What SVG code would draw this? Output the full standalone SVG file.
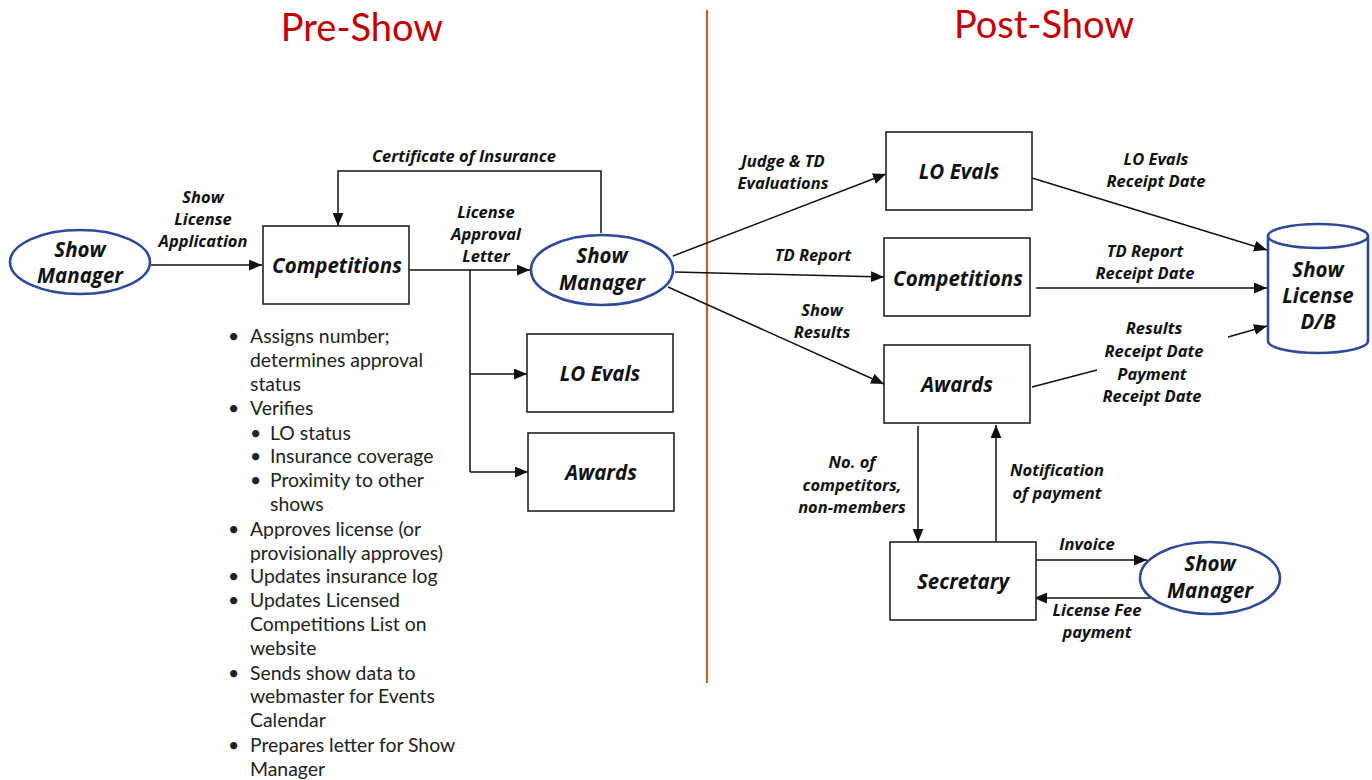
<svg xmlns="http://www.w3.org/2000/svg" width="1372" height="780" viewBox="0 0 1372 780">
<style>
.title{font-family:Lato,"Open Sans",sans-serif;font-size:38px;fill:#c00000;text-anchor:middle}
.box{fill:#fff;stroke:#222;stroke-width:1.6}
.oval{fill:#fff;stroke:#2c4a97;stroke-width:2.6}
.node{font-family:"Open Sans",Lato,sans-serif;font-size:20.5px;font-weight:bold;font-style:italic;fill:#111;text-anchor:middle}
.lbl{font-family:"Open Sans",Lato,sans-serif;font-size:16.5px;font-weight:bold;font-style:italic;fill:#111;text-anchor:middle}
.bul{font-family:Lato,"Open Sans",sans-serif;font-size:19.4px;fill:#222}
.ln{fill:none;stroke:#111;stroke-width:1.5}
.arr{fill:none;stroke:#111;stroke-width:1.5;marker-end:url(#ah)}
</style>
<defs>
<marker id="ah" viewBox="0 0 12 10" refX="12" refY="5" markerWidth="13" markerHeight="11" markerUnits="userSpaceOnUse" orient="auto">
<path d="M0,0 L12,5 L0,10 z" fill="#111"/>
</marker>
</defs>
<rect width="1372" height="780" fill="#fff"/>
<text class="title" x="362" y="41">Pre-Show</text>
<text class="title" x="1044" y="38">Post-Show</text>
<line x1="707" y1="10" x2="707" y2="683" stroke="#c0622b" stroke-width="2.2"/>

<g id="connectors">
<line class="arr" x1="150" y1="265" x2="262" y2="265"/>
<polyline class="arr" points="601,233 601,171 338,171 338,226"/>
<line class="arr" x1="409" y1="270" x2="530" y2="270"/>
<polyline class="ln" points="470,270 470,472"/>
<line class="arr" x1="470" y1="374" x2="527" y2="374"/>
<line class="arr" x1="470" y1="472" x2="528" y2="472"/>
<line class="arr" x1="673" y1="256" x2="886" y2="174"/>
<line class="arr" x1="675" y1="272" x2="884" y2="277"/>
<line class="arr" x1="668" y1="287" x2="884" y2="384"/>
<line class="arr" x1="1032" y1="178" x2="1267" y2="250"/>
<line class="arr" x1="1036" y1="288" x2="1267" y2="288"/>
<line class="ln" x1="1032" y1="387" x2="1097" y2="370"/>
<line class="arr" x1="1228" y1="337" x2="1267" y2="326"/>
<line class="arr" x1="918" y1="426" x2="918" y2="542"/>
<line class="arr" x1="996" y1="542" x2="996" y2="425"/>
<line class="arr" x1="1036" y1="560" x2="1147" y2="560"/>
<line class="arr" x1="1150" y1="598" x2="1034" y2="598"/>
</g>

<g id="labels">
<text class="lbl" x="203" y="203">Show</text>
<text class="lbl" x="203" y="225">License</text>
<text class="lbl" x="203" y="247">Application</text>
<text class="lbl" x="464" y="162">Certificate of Insurance</text>
<text class="lbl" x="486" y="218">License</text>
<text class="lbl" x="486" y="240">Approval</text>
<text class="lbl" x="486" y="262">Letter</text>
<text class="lbl" x="783" y="167">Judge &amp; TD</text>
<text class="lbl" x="783" y="189">Evaluations</text>
<text class="lbl" x="813" y="261">TD Report</text>
<text class="lbl" x="822" y="316">Show</text>
<text class="lbl" x="822" y="338">Results</text>
<text class="lbl" x="1156" y="165">LO Evals</text>
<text class="lbl" x="1156" y="187">Receipt Date</text>
<text class="lbl" x="1145" y="257">TD Report</text>
<text class="lbl" x="1145" y="279">Receipt Date</text>
<text class="lbl" x="1154" y="334">Results</text>
<text class="lbl" x="1154" y="357">Receipt Date</text>
<text class="lbl" x="1152" y="380">Payment</text>
<text class="lbl" x="1152" y="402">Receipt Date</text>
<text class="lbl" x="852" y="468">No. of</text>
<text class="lbl" x="852" y="491">competitors,</text>
<text class="lbl" x="852" y="513">non-members</text>
<text class="lbl" x="1057" y="476">Notification</text>
<text class="lbl" x="1057" y="499">of payment</text>
<text class="lbl" x="1087" y="550">Invoice</text>
<text class="lbl" x="1097" y="616">License Fee</text>
<text class="lbl" x="1097" y="638">payment</text>
</g>

<g id="sm-left">
<ellipse class="oval" cx="80" cy="262" rx="70" ry="32"/>
<text class="node" x="80" y="257">Show</text>
<text class="node" x="80" y="283">Manager</text>
</g>
<g id="competitions-pre">
<rect class="box" x="263" y="226" width="146" height="78"/>
<text class="node" x="337" y="273">Competitions</text>
</g>
<g id="sm-center">
<ellipse class="oval" cx="602" cy="270" rx="71" ry="35"/>
<text class="node" x="602" y="263">Show</text>
<text class="node" x="602" y="290">Manager</text>
</g>
<g id="loevals-pre">
<rect class="box" x="527" y="334" width="146" height="78"/>
<text class="node" x="600" y="381">LO Evals</text>
</g>
<g id="awards-pre">
<rect class="box" x="528" y="433" width="146" height="78"/>
<text class="node" x="601" y="480">Awards</text>
</g>

<g id="bullets" class="bul">
<text x="228" y="343">•</text><text x="250" y="343">Assigns number;</text>
<text x="250" y="367">determines approval</text>
<text x="250" y="391">status</text>
<text x="228" y="415">•</text><text x="250" y="415">Verifies</text>
<text x="250" y="440">•</text><text x="270" y="440">LO status</text>
<text x="250" y="463">•</text><text x="270" y="463">Insurance coverage</text>
<text x="250" y="487">•</text><text x="270" y="487">Proximity to other</text>
<text x="270" y="511">shows</text>
<text x="228" y="536">•</text><text x="250" y="536">Approves license (or</text>
<text x="250" y="560">provisionally approves)</text>
<text x="228" y="583">•</text><text x="250" y="583">Updates insurance log</text>
<text x="228" y="607">•</text><text x="250" y="607">Updates Licensed</text>
<text x="250" y="631">Competitions List on</text>
<text x="250" y="655">website</text>
<text x="228" y="680">•</text><text x="250" y="680">Sends show data to</text>
<text x="250" y="703">webmaster for Events</text>
<text x="250" y="727">Calendar</text>
<text x="228" y="752">•</text><text x="250" y="752">Prepares letter for Show</text>
<text x="250" y="776">Manager</text>
</g>

<g id="loevals-post">
<rect class="box" x="886" y="132" width="146" height="78"/>
<text class="node" x="959" y="179">LO Evals</text>
</g>
<g id="competitions-post">
<rect class="box" x="884" y="238" width="146" height="78"/>
<text class="node" x="958" y="286">Competitions</text>
</g>
<g id="awards-post">
<rect class="box" x="884" y="345" width="146" height="78"/>
<text class="node" x="957" y="392">Awards</text>
</g>
<g id="secretary">
<rect class="box" x="890" y="542" width="146" height="78"/>
<text class="node" x="963" y="589">Secretary</text>
</g>
<g id="sm-right">
<ellipse class="oval" cx="1210" cy="578" rx="70" ry="36"/>
<text class="node" x="1210" y="571">Show</text>
<text class="node" x="1210" y="598">Manager</text>
</g>
<g id="db">
<path class="oval" d="M1268,236 L1268,341 A50,12 0 0 0 1368,341 L1368,236"/>
<ellipse class="oval" cx="1318" cy="236" rx="50" ry="12"/>
<text class="node" x="1318" y="277">Show</text>
<text class="node" x="1318" y="303">License</text>
<text class="node" x="1318" y="329">D/B</text>
</g>
</svg>
